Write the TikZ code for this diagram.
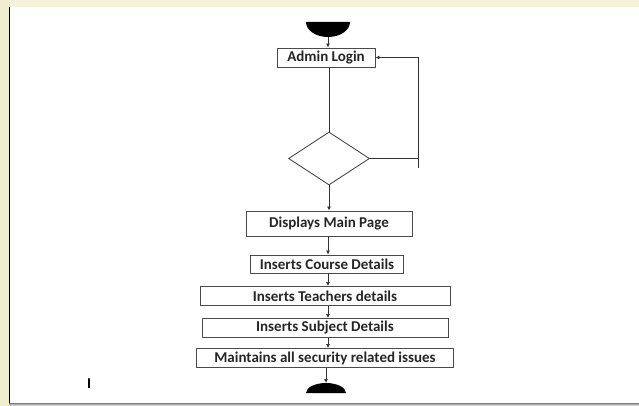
\documentclass[tikz,border=0pt]{standalone}
\usepackage{fontspec}
\setmainfont{Carlito}
\usetikzlibrary{arrows.meta,shapes.geometric}
\definecolor{paleyel}{HTML}{F6F2D8}
\definecolor{paleleft}{HTML}{EFEFD0}
\definecolor{linec}{HTML}{333333}
\definecolor{boxc}{HTML}{4A4A4A}
\definecolor{shade}{HTML}{D8D8D8}
\begin{document}
\begin{tikzpicture}[x=1pt,y=-1pt,
  stepbox/.style={draw=boxc,line width=0.9pt,fill=white,inner sep=0pt,font=\bfseries\fontsize{15}{16}\selectfont,text=black!85},
  conn/.style={draw=linec,line width=0.9pt},
  arr/.style={conn,-{Latex[length=4pt,width=4pt]}}]
\useasboundingbox (0,0) rectangle (639,406);
% background
\fill[paleyel] (0,0) rectangle (639,406);
\fill[paleleft] (0,0) rectangle (9,406);
\fill[white] (9,7) rectangle (639,403);
\fill[shade] (9,403) rectangle (639,406);
\draw[shade,line width=1.2pt] (9.6,7) -- (9.6,403);
% start
\fill[black] (306,22) .. controls (306,30.3) and (315.8,37) .. (328,37)
  .. controls (340.2,37) and (350,30.3) .. (350,22) -- cycle;
\coordinate (st) at (328,37);
% nodes
\node[stepbox,minimum width=98pt,minimum height=19pt] (admin) at (326,57.5) {Admin Login};
\node[draw=boxc,line width=0.9pt,diamond,inner sep=0pt,minimum width=81pt,minimum height=53pt,aspect=1.53] (dec) at (329,158.5) {};
\node[stepbox,minimum width=166pt,minimum height=25pt] (main) at (329,223.5) {Displays Main Page};
\node[stepbox,minimum width=153pt,minimum height=18pt] (course) at (327,264) {Inserts Course Details};
\node[stepbox,minimum width=250pt,minimum height=19pt] (teach) at (325,296) {Inserts Teachers details};
\node[stepbox,minimum width=246pt,minimum height=19pt] (subj) at (325,328) {Inserts Subject Details};
\node[stepbox,minimum width=257pt,minimum height=19pt] (maint) at (325,358) {Maintains all security related issues};
% end
\fill[black] (306,393) .. controls (306,387.5) and (315,383) .. (326,383)
  .. controls (337,383) and (346,387.5) .. (346,393) -- cycle;
\coordinate (en) at (326,383);
% cursor mark
\node[font=\bfseries\fontsize{15}{16}\selectfont,inner sep=0pt] (cur) at (89,383.5) {I};
% connectors
\draw[arr] (st) -- (admin.north -| st);
\draw[conn] (admin.south -| dec.north) -- (dec.north);
\coordinate (rt) at (418,158.5);
\coordinate (rb) at (418,168);
\draw[conn] (dec.east) -- (rt);
\draw[arr] (rb) -- (418,57.5) -- (admin.east);
\draw[arr] (dec.south) -- (main.north -| dec.south);
\draw[arr] (main.south -| 328,0) -- (course.north -| 328,0);
\draw[arr] (course.south -| 328,0) -- (teach.north -| 328,0);
\draw[arr] (teach.south -| 328,0) -- (subj.north -| 328,0);
\draw[arr] (subj.south -| 328,0) -- (maint.north -| 328,0);
\draw[arr] (maint.south -| en) -- (en);
\end{tikzpicture}
\end{document}
